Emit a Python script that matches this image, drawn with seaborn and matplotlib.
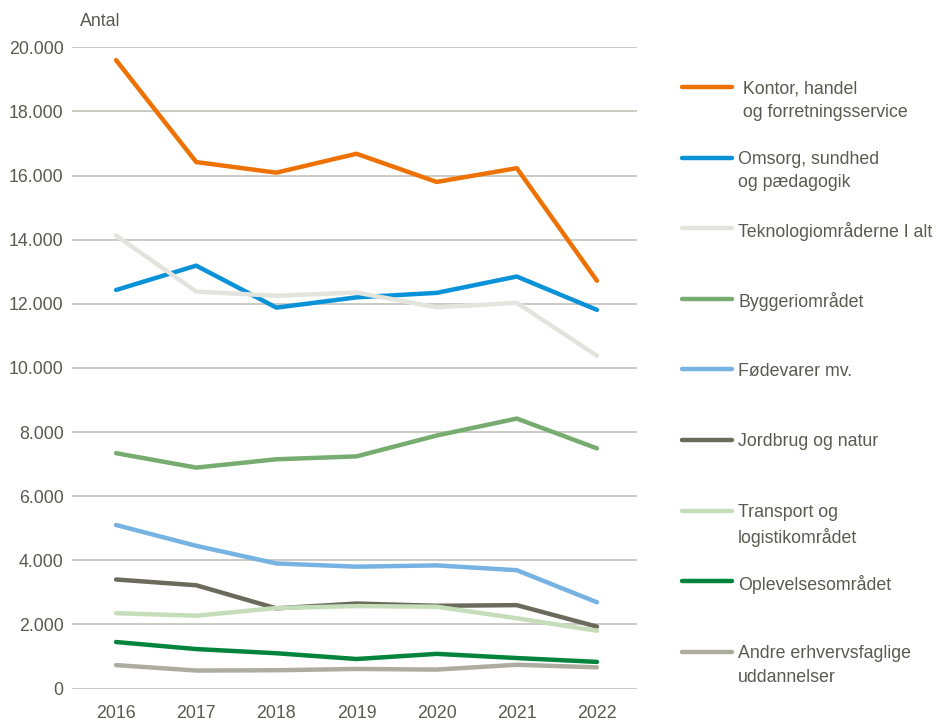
import pandas as pd
import matplotlib.pyplot as plt
import seaborn as sns
from matplotlib.lines import Line2D
from matplotlib.ticker import FuncFormatter

years = ["2016", "2017", "2018", "2019", "2020", "2021", "2022"]

kontor = [19600, 16420, 16090, 16680, 15800, 16230, 12720]
omsorg = [12430, 13190, 11880, 12200, 12340, 12850, 11810]
teknologi = [14130, 12380, 12250, 12350, 11890, 12030, 10380]
byggeri = [7340, 6890, 7150, 7240, 7890, 8420, 7490]
foedevarer = [5100, 4450, 3900, 3800, 3840, 3690, 2690]
jordbrug = [3400, 3220, 2500, 2650, 2580, 2600, 1930]
transport = [2350, 2270, 2510, 2570, 2550, 2190, 1800]
oplevelse = [1450, 1230, 1100, 920, 1080, 950, 830]
andre = [730, 560, 570, 610, 590, 740, 660]

series_names = [
    " Kontor, handel\n og forretningsservice",
    "Omsorg, sundhed\nog pædagogik",
    "Teknologiområderne I alt",
    "Byggeriområdet",
    "Fødevarer mv.",
    "Jordbrug og natur",
    "Transport og\nlogistikområdet",
    "Oplevelsesområdet",
    "Andre erhvervsfaglige\nuddannelser",
]
series_values = [kontor, omsorg, teknologi, byggeri, foedevarer,
                 jordbrug, transport, oplevelse, andre]
colors = ["#ED7203", "#0A92D8", "#E4E4DF", "#77AC70", "#76B3E3",
          "#6B6A5B", "#C6DDBA", "#03843C", "#AEAC9F"]

# long format for seaborn
rows = []
for name, vals in zip(series_names, series_values):
    for yr, v in zip(years, vals):
        rows.append({"År": yr, "Antal": v, "Område": name})
df = pd.DataFrame(rows)

sns.set_style("white")
plt.rcParams["font.family"] = ["Liberation Sans", "DejaVu Sans"]
text_col = "#5A5A50"
fs = 12.8

fig = plt.figure(figsize=(9.36, 7.22), dpi=100)
ax = fig.add_axes([72 / 936, (722 - 688.5) / 722, (637 - 72) / 936, (688.5 - 47.3) / 722])

sns.lineplot(data=df, x="År", y="Antal", hue="Område", hue_order=series_names,
             palette=colors, linewidth=3.2, sort=False, legend=False, ax=ax)
for ln in ax.get_lines():
    ln.set_solid_capstyle("round")
    ln.set_clip_on(False)

ax.set_ylim(0, 20000)
ax.set_xlim(-0.55, 6.5)
ax.set_yticks(range(0, 20001, 2000))
ax.yaxis.set_major_formatter(FuncFormatter(lambda v, p: f"{int(v):,}".replace(",", ".")))
ax.grid(axis="y", color="#CBCBC3", linewidth=1.4)
ax.set_axisbelow(True)
for s in ax.spines.values():
    s.set_visible(False)
ax.tick_params(axis="both", length=0, labelsize=fs, colors=text_col)
ax.tick_params(axis="y", pad=6)
ax.tick_params(axis="x", pad=12)
ax.set_xlabel("")
ax.set_ylabel("")

fig.text(80 / 936, 1 - 21 / 722, "Antal", fontsize=fs, color=text_col, va="center")

# legend drawn manually: handle aligned with the first line of each label
for i, (name, col) in enumerate(zip(series_names, colors)):
    ypx = 87 + i * 70.6
    yf = 1 - ypx / 722
    fig.add_artist(Line2D([682 / 936, 732 / 936], [yf, yf], color=col,
                          linewidth=3.2, solid_capstyle="round"))
    fig.text(738 / 936, 1 - (ypx - 6.5) / 722, name, fontsize=fs, color=text_col,
             va="top", ha="left", linespacing=1.48)

fig.savefig("out.png", dpi=100)
plt.close(fig)
